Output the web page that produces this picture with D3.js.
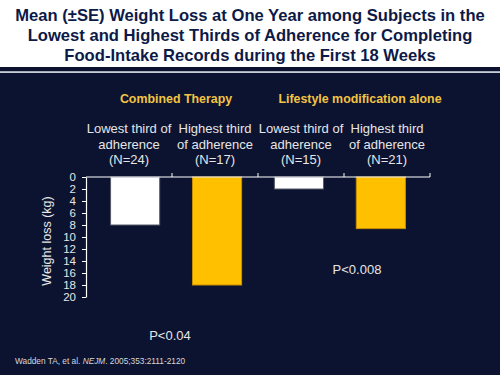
<!DOCTYPE html>
<html>
<head>
<meta charset="utf-8">
<script src="https://cdn.jsdelivr.net/npm/d3@7"></script>
<style>
  body { margin: 0; background: #fff; }
  svg { display: block; font-family: Arial, "Liberation Sans", sans-serif; }
</style>
</head>
<body>
<figure id="weightLoss" style="margin:0"></figure>
<script>
// data
var categories = ["ct_low", "ct_high", "lm_low", "lm_high"];
var categoryLabels = [
  ["Lowest third of", "adherence", "(N=24)"],
  ["Highest third", "of adherence", "(N=17)"],
  ["Lowest third of", "adherence", "(N=15)"],
  ["Highest third", "of adherence", "(N=21)"]
];
var weightLoss = [8.0, 18.0, 2.0, 8.6];
var barColors = ["#ffffff", "#ffc000", "#ffffff", "#ffc000"];
var groupNames = ["Combined Therapy", "Lifestyle modification alone"];
var yTicks = [0, 2, 4, 6, 8, 10, 12, 14, 16, 18, 20];
var titleLines = [
  "Mean (\u00b1SE) Weight Loss at One Year among Subjects in the",
  "Lowest and Highest Thirds of Adherence for Completing",
  "Food-Intake Records during the First 18 Weeks"
];

var W = 500, H = 375;
var navy = "#0c1330";
var textCol = "#e6e6e6";

var svg = d3.select("figure#weightLoss")
  .append("svg")
  .attr("width", W)
  .attr("height", H);

// slide background: white title strip, rules, navy body
svg.append("rect").attr("width", W).attr("height", H).attr("fill", "#fff");
svg.append("rect").attr("y", 67).attr("width", W).attr("height", 4.5).attr("fill", navy);
svg.append("rect").attr("y", 71.5).attr("width", W).attr("height", 1.5).attr("fill", "#c8ccd6");
svg.append("rect").attr("y", 73).attr("width", W).attr("height", H - 73).attr("fill", navy);

// title
svg.append("g")
  .selectAll("text")
  .data(titleLines)
  .enter()
  .append("text")
    .attr("x", 250)
    .attr("y", function(d, i) { return 21 + i * 20; })
    .attr("text-anchor", "middle")
    .attr("font-size", 16.6)
    .attr("font-weight", "bold")
    .attr("fill", "#0d1a48")
    .text(function(d) { return d; });

// scales
var x = d3.scaleBand()
  .domain(categories)
  .range([86, 430])
  .paddingInner(0.4)
  .paddingOuter(0.3);

var xb = d3.scaleBand().domain(categories).range([86, 430]);

var y = d3.scaleLinear()
  .domain([0, 20])
  .range([177, 297]);

// bars
svg.append("g")
  .selectAll("rect")
  .data(weightLoss)
  .enter()
  .append("rect")
    .attr("x", function(d, i) { return x(categories[i]); })
    .attr("y", y(0))
    .attr("width", x.bandwidth())
    .attr("height", function(d) { return y(d) - y(0); })
    .attr("fill", function(d, i) { return barColors[i]; })
    .attr("stroke", function(d, i) { return i % 2 ? "#c98f00" : "#555a66"; })
    .attr("stroke-width", 1);

// y axis (values grow downwards)
var yAxis = svg.append("g")
  .attr("transform", "translate(86,0)")
  .call(d3.axisLeft(y).tickValues(yTicks).tickSize(4).tickSizeOuter(0).tickPadding(6));
yAxis.select(".domain").attr("stroke", "#fff").attr("stroke-width", 1.2);
yAxis.selectAll(".tick line").attr("stroke", "#fff");
yAxis.selectAll("text")
  .attr("fill", textCol)
  .attr("font-size", 11.5)
  .attr("font-family", "Arial, 'Liberation Sans', sans-serif");

// top category axis at zero
var xAxis = svg.append("g")
  .attr("transform", "translate(0," + y(0) + ")");
xAxis.append("line")
  .attr("x1", 86).attr("x2", 430)
  .attr("stroke", "#fff").attr("stroke-width", 1.2);
xAxis.selectAll(".sep")
  .data(categories)
  .enter()
  .append("line")
    .attr("class", "sep")
    .attr("x1", function(d) { return xb(d) + xb.bandwidth(); })
    .attr("x2", function(d) { return xb(d) + xb.bandwidth(); })
    .attr("y1", 0).attr("y2", -4)
    .attr("stroke", "#fff");

// category labels
var cat = svg.append("g")
  .selectAll("text")
  .data(categoryLabels)
  .enter()
  .append("text")
    .attr("text-anchor", "middle")
    .attr("font-size", 13)
    .attr("fill", textCol);
cat.selectAll("tspan")
  .data(function(d, i) { return d.map(function(t) { return {t: t, i: i}; }); })
  .enter()
  .append("tspan")
    .attr("x", function(d) { return xb(categories[d.i]) + xb.bandwidth() / 2; })
    .attr("y", function(d, j) { return 133 + j * 15.5; })
    .text(function(d) { return d.t; });

// group headers
svg.append("g")
  .selectAll("text")
  .data(groupNames)
  .enter()
  .append("text")
    .attr("x", function(d, i) { return i === 0 ? 176 : 360; })
    .attr("y", 103)
    .attr("text-anchor", "middle")
    .attr("font-size", 12.4)
    .attr("font-weight", "bold")
    .attr("fill", "#f2c443")
    .text(function(d) { return d; });

// axis title
svg.append("text")
  .attr("transform", "translate(51,241) rotate(-90)")
  .attr("text-anchor", "middle")
  .attr("font-size", 12.5)
  .attr("fill", textCol)
  .text("Weight loss (kg)");

// p values
svg.append("text")
  .attr("x", 170).attr("y", 340)
  .attr("text-anchor", "middle")
  .attr("font-size", 13)
  .attr("fill", textCol)
  .text("P<0.04");
svg.append("text")
  .attr("x", 357).attr("y", 274)
  .attr("text-anchor", "middle")
  .attr("font-size", 13)
  .attr("fill", textCol)
  .text("P<0.008");

// citation
var cite = svg.append("text")
  .attr("x", 15).attr("y", 364)
  .attr("font-size", 8.3)
  .attr("fill", "#d8d8d8");
cite.append("tspan").text("Wadden TA, et al. ");
cite.append("tspan").attr("font-style", "italic").text("NEJM");
cite.append("tspan").text(". 2005;353:2111-2120");
</script>
</body>
</html>
